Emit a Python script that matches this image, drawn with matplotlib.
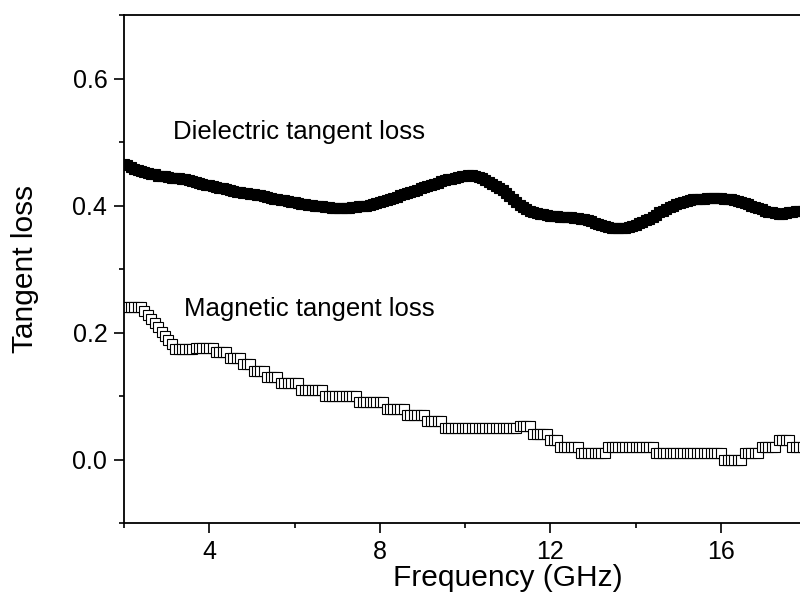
import numpy as np
import matplotlib
matplotlib.use("Agg")
import matplotlib.pyplot as plt
from matplotlib.ticker import MultipleLocator

plt.rcParams['font.family'] = ['Liberation Sans', 'DejaVu Sans']

# Frequency sweep: 201 points from 2 to 18 GHz (0.08 GHz step)
frequency = np.linspace(2.0, 18.0, 201)

dielectric_loss = [
    0.466, 0.463, 0.460, 0.458, 0.456, 0.454, 0.452, 0.451, 0.450, 0.449,
    0.447, 0.4465, 0.446, 0.445, 0.444, 0.4435, 0.443, 0.442, 0.441, 0.440,
    0.4385, 0.437, 0.4355, 0.434, 0.433, 0.432, 0.431, 0.4295, 0.428, 0.427,
    0.426, 0.4245, 0.4235, 0.422, 0.421, 0.420, 0.419, 0.418, 0.4175, 0.417,
    0.416, 0.415, 0.414, 0.4125, 0.411, 0.410, 0.409, 0.408, 0.407, 0.406,
    0.405, 0.404, 0.403, 0.402, 0.4015, 0.401, 0.400, 0.3995, 0.399, 0.398,
    0.397, 0.3965, 0.396, 0.396, 0.396, 0.396, 0.3965, 0.397, 0.398, 0.399,
    0.3995, 0.400, 0.401, 0.402, 0.4035, 0.405, 0.4065, 0.408, 0.4105, 0.412,
    0.414, 0.416, 0.418, 0.420, 0.422, 0.4235, 0.425, 0.427, 0.429, 0.4305,
    0.432, 0.434, 0.436, 0.438, 0.440, 0.441, 0.4425, 0.444, 0.445, 0.446,
    0.447, 0.4475, 0.4475, 0.447, 0.4455, 0.443, 0.440, 0.437, 0.4335, 0.430,
    0.4275, 0.424, 0.419, 0.415, 0.411, 0.406, 0.401, 0.398, 0.395, 0.392,
    0.390, 0.388, 0.387, 0.386, 0.385, 0.384, 0.3835, 0.383, 0.3825, 0.382,
    0.382, 0.3815, 0.381, 0.380, 0.3795, 0.379, 0.377, 0.375, 0.373, 0.3715,
    0.370, 0.368, 0.366, 0.365, 0.364, 0.364, 0.3645, 0.365, 0.366, 0.368,
    0.370, 0.372, 0.374, 0.377, 0.379, 0.382, 0.3855, 0.389, 0.392, 0.395,
    0.397, 0.400, 0.402, 0.404, 0.406, 0.4075, 0.409, 0.410, 0.4105, 0.411,
    0.411, 0.4115, 0.4115, 0.4115, 0.4115, 0.4115, 0.411, 0.4105, 0.410, 0.409,
    0.4075, 0.406, 0.404, 0.402, 0.400, 0.398, 0.396, 0.394, 0.392, 0.390,
    0.389, 0.388, 0.387, 0.387, 0.388, 0.389, 0.390, 0.391, 0.3915, 0.392,
    0.393,
]

# Magnetic tangent loss, read as runs of equal values: (value, number of points)
magnetic_levels = [
    0.240, 0.234, 0.228, 0.222, 0.215, 0.208, 0.201, 0.194, 0.188, 0.182,
    0.174, 0.176, 0.170, 0.160, 0.150, 0.140, 0.130, 0.120, 0.110, 0.100,
    0.090, 0.080, 0.070, 0.060, 0.050, 0.052, 0.040, 0.030, 0.020, 0.010,
    0.020, 0.010, 0.000, 0.010, 0.020, 0.030, 0.020,
]
magnetic_counts = [
    6, 1, 1, 1, 1, 1, 1, 1, 1, 1,
    6, 6, 4, 4, 3, 4, 4, 6, 7, 10,
    8, 6, 6, 5, 22, 4, 5, 3, 6, 8,
    14, 20, 6, 5, 5, 4, 5,
]
magnetic_loss = np.repeat(magnetic_levels, magnetic_counts)

x_ticks = [4, 8, 12, 16]
y_ticks = [0.0, 0.2, 0.4, 0.6]

fig = plt.figure(figsize=(8.0, 5.95), dpi=100)
ax = fig.add_axes([124 / 800, 1 - 523 / 595, 682 / 800, 508 / 595])

ax.plot(frequency, dielectric_loss, linestyle='none', marker='s',
        markersize=7.8, markerfacecolor='black', markeredgecolor='black',
        markeredgewidth=0.8)
ax.plot(frequency, magnetic_loss, linestyle='none', marker='s',
        markersize=6.7, markerfacecolor='white', markeredgecolor='black',
        markeredgewidth=0.8)

ax.set_xlim(2, 18)
ax.set_ylim(-0.1, 0.7)
ax.set_xticks(x_ticks)
ax.set_yticks(y_ticks)
ax.set_yticklabels([f"{v:.1f}" for v in y_ticks])
ax.xaxis.set_minor_locator(MultipleLocator(2))
ax.yaxis.set_minor_locator(MultipleLocator(0.1))

ax.tick_params(which='both', direction='out', width=1.2, labelsize=18,
               top=False, right=False)
ax.tick_params(which='major', length=7, pad=5)
ax.tick_params(which='minor', length=3.8)
for sp in ax.spines.values():
    sp.set_linewidth(1.3)

ax.set_xlabel('Frequency (GHz)', fontsize=21.5)
ax.xaxis.set_label_coords((507.5 - 124) / 682, -0.080)
ax.set_ylabel('Tangent loss', fontsize=21.5)
ax.yaxis.set_label_coords(-0.125, 0.5)

ax.text(3.15, 0.504, 'Dielectric tangent loss', fontsize=18.5,
        ha='left', va='baseline')
ax.text(3.41, 0.2257, 'Magnetic tangent loss', fontsize=18.5,
        ha='left', va='baseline')

fig.savefig('out.png', dpi=100)
